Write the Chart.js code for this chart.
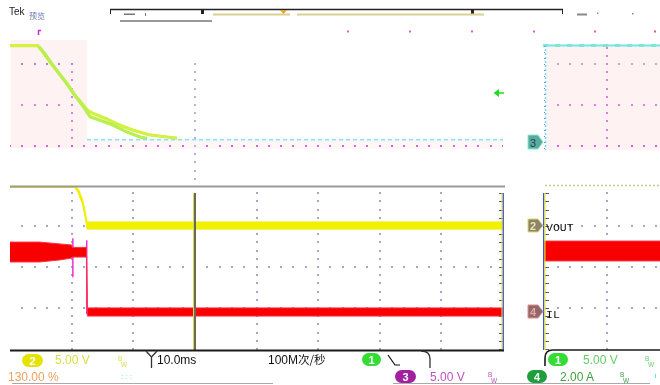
<!DOCTYPE html>
<html>
<head>
<meta charset="utf-8">
<script src="https://cdn.jsdelivr.net/npm/chart.js@4.4.1/dist/chart.umd.min.js"></script>
<style>
  html, body { margin: 0; padding: 0; background: #fff; }
  #scope { position: relative; width: 660px; height: 385px; overflow: hidden; background: #fff;
           font-family: "Liberation Sans", Arial, sans-serif; }
  .pane { position: absolute; }
  .pane canvas { display: block; }
  #overlay { position: absolute; left: 0; top: 0; pointer-events: none; }
</style>
</head>
<body>
<div id="scope">
  <div class="pane" style="left:10px;top:20px"><canvas id="overview" width="493" height="165"></canvas></div>
  <div class="pane" style="left:10px;top:186px"><canvas id="mainWin" width="493" height="164"></canvas></div>
  <div class="pane" style="left:543px;top:20px"><canvas id="sideTop" width="117" height="165"></canvas></div>
  <div class="pane" style="left:543px;top:186px"><canvas id="sideBottom" width="117" height="164"></canvas></div>

  <svg id="overlay" width="660" height="385" xmlns="http://www.w3.org/2000/svg">
    <!-- record bar -->
    <text x="9" y="15" font-size="10" fill="#222">Tek</text>
    <text x="29" y="19" font-size="8" fill="#6a7ab0" font-family="Noto Sans CJK SC">预览</text>
    <line x1="110" y1="9.5" x2="563" y2="9.5" stroke="#222" stroke-width="1.5"/>
    <path d="M110.5,9 V14 M562.5,9 V14" stroke="#222" stroke-width="1"/>
    <rect x="201" y="9" width="3" height="5" fill="#222"/>
    <rect x="471" y="9" width="3" height="5" fill="#222"/>
    <rect x="213" y="13.5" width="77" height="2" fill="#d9d28e"/>
    <rect x="297" y="13.5" width="187" height="2" fill="#d9d28e"/>
    <path d="M280,10 L287,10 L283.5,14 Z" fill="#e8a030"/>
    <line x1="120" y1="21" x2="212" y2="21" stroke="#333" stroke-width="1"/>
    <rect x="124" y="13.5" width="11" height="1.5" fill="#777"/>
    <rect x="145" y="13" width="1" height="3" fill="#777"/>
    <rect x="577" y="13.5" width="10" height="2" fill="#888"/>
    <rect x="597" y="12.5" width="1.5" height="1.5" fill="#888"/>
    <rect x="632" y="13" width="1.5" height="1.5" fill="#888"/>

    <!-- small marks along the top of the overview -->
    <path d="M38.5,35 V30.5 H41" stroke="#e020e0" stroke-width="1.5" fill="none"/>
    <g fill="#d060d0">
      <rect x="347" y="30.5" width="2" height="2"/><rect x="409" y="30.5" width="2" height="2"/>
      <rect x="471" y="30.5" width="2" height="2"/><rect x="533" y="30.5" width="2" height="2"/>
      <rect x="594" y="30.5" width="2" height="2"/><rect x="654" y="30.5" width="2" height="2" fill="#e06060"/>
    </g>

    <!-- trigger level arrow -->
    <path d="M493.5,93 L499,89 L499,97 Z" fill="#22dd22"/>
    <line x1="498" y1="93" x2="504" y2="93" stroke="#22dd22" stroke-width="1.5"/>

    <!-- side window left edge (overview) -->
    <line x1="545.5" y1="45" x2="545.5" y2="150" stroke="#60e0f0" stroke-width="1.5" stroke-dasharray="2,2"/>
    <line x1="544.5" y1="46" x2="544.5" y2="150" stroke="#b070d0" stroke-width="1" stroke-dasharray="1,5"/>

    <!-- main window frame -->
    <rect x="10" y="185.5" width="495" height="2" fill="#9a9a9a"/>
    <rect x="193" y="193" width="1" height="157" fill="#d8d860"/>
    <rect x="194" y="193" width="2" height="157" fill="#6b6b4f"/>
    <rect x="501.5" y="193" width="1.2" height="157" fill="#e0e030"/>
    <rect x="502.7" y="193" width="1.3" height="157" fill="#5060e0"/>
    <rect x="10" y="349.5" width="494" height="2" fill="#1a1a1a"/>

    <!-- side window frame -->
    <line x1="545" y1="185.5" x2="660" y2="185.5" stroke="#c8c890" stroke-width="1.5" stroke-dasharray="2,2"/>
    <rect x="543" y="193" width="1.3" height="157" fill="#4050e0"/>
    <rect x="544.3" y="193" width="1.2" height="157" fill="#e0e030"/>

    <!-- channel ground markers -->
    <path d="M528,219 H538 L543,225.5 L538,232 H528 Z" fill="#8c8468" stroke="#e0d870" stroke-width="1"/>
    <text x="530" y="230" font-size="11" font-weight="bold" fill="#e8e8b0">2</text>
    <path d="M528,305 H538 L543,311.5 L538,318 H528 Z" fill="#8c6a6a" stroke="#e88a8a" stroke-width="1"/>
    <text x="530" y="316" font-size="11" font-weight="bold" fill="#f0a0a0">4</text>
    <path d="M528,135 H538 L543,142 L538,149 H528 Z" fill="#5fa8a0" stroke="#80f0c0" stroke-width="1"/>
    <text x="530" y="146.5" font-size="11" fill="#1a4a4a">3</text>
    <text x="546" y="231" font-size="11.5" font-family="Liberation Mono, DejaVu Sans Mono, monospace" fill="#111">VOUT</text>
    <text x="546" y="318" font-size="11.5" font-family="Liberation Mono, DejaVu Sans Mono, monospace" fill="#111">IL</text>

    <!-- status area outline -->
    <path d="M146,351 L151.5,357 V368 M157,351 L151.5,357" stroke="#333" stroke-width="1.3" fill="none"/>
    <path d="M421,351 Q430,351 430,359 V368" stroke="#333" stroke-width="1.3" fill="none"/>
    <path d="M660,350 H553 Q545,350 545,358 V366" stroke="#1a1a1a" stroke-width="1.6" fill="none"/>
    <line x1="12" y1="383.5" x2="273" y2="383.5" stroke="#aaa" stroke-width="1"/>
    <line x1="393" y1="383.5" x2="650" y2="383.5" stroke="#aaa" stroke-width="1"/>

    <!-- channel 2 -->
    <rect x="22" y="354" width="21" height="13" rx="6.5" fill="#e4e400"/>
    <text x="32.5" y="364.5" font-size="11" font-weight="bold" fill="#fff" text-anchor="middle">2</text>
    <text x="55" y="364" font-size="12" fill="#dcdc40">5.00 V</text>
    <text x="118" y="361" font-size="6.5" fill="#dcdc40">B</text>
    <text x="121" y="367" font-size="6.5" fill="#dcdc40">W</text>

    <!-- timebase / trigger -->
    <text x="157" y="364" font-size="12" fill="#111">10.0ms</text>
    <text x="268" y="364" font-size="12" fill="#111">100M<tspan font-family="Noto Sans CJK SC" font-size="11.5">次/秒</tspan></text>
    <rect x="362" y="353" width="19" height="13" rx="6.5" fill="#33dd33"/>
    <text x="371.5" y="363.5" font-size="11" font-weight="bold" fill="#fff" text-anchor="middle">1</text>
    <path d="M388,355 L395,365 H400" stroke="#111" stroke-width="1.2" fill="none"/>

    <!-- side window channel 1 -->
    <rect x="548" y="353" width="20" height="13" rx="6.5" fill="#33dd33"/>
    <text x="558" y="363.5" font-size="11" font-weight="bold" fill="#fff" text-anchor="middle">1</text>
    <text x="583" y="364" font-size="12" fill="#66cc66">5.00 V</text>
    <text x="645" y="361" font-size="6.5" fill="#66cc66">B</text>
    <text x="648" y="367" font-size="6.5" fill="#66cc66">W</text>

    <!-- second status row -->
    <text x="8" y="381" font-size="12" fill="#f0a060">130.00 %</text>
    <text x="121" y="379" font-size="8" fill="#60e0f0">: : :</text>
    <rect x="395" y="370" width="21" height="13" rx="6.5" fill="#a020a0"/>
    <text x="405.5" y="380.5" font-size="11" font-weight="bold" fill="#fff" text-anchor="middle">3</text>
    <text x="430" y="381" font-size="12" fill="#c050c0">5.00 V</text>
    <text x="488" y="377" font-size="6.5" fill="#c050c0">B</text>
    <text x="491" y="383" font-size="6.5" fill="#c050c0">W</text>
    <rect x="527" y="370" width="20" height="13" rx="6.5" fill="#1e9e3c"/>
    <text x="537" y="380.5" font-size="11" font-weight="bold" fill="#fff" text-anchor="middle">4</text>
    <text x="560" y="381" font-size="12" fill="#40a040">2.00 A</text>
    <text x="620" y="377" font-size="6.5" fill="#40a040">B</text>
    <text x="623" y="383" font-size="6.5" fill="#40a040">W</text>
    <rect x="655" y="374" width="1" height="4" fill="#60e0f0"/>
  </svg>
</div>

<script>
// ---- Channel 1 (input, 5 V/div), overview record: time in ms, volts ----
const ch1TimeA = [-30, -25.5, -24.7, -23.5, -22.2, -20.8, -19.5, -18.2, -17.5, -16.6, -14.3, -12.2, -10.1, -7.3, -4.5, -2.9];
const ch1VoltA = [12.25, 12.25, 11.5, 10.25, 9.0, 7.7, 6.2, 5.1, 4.4, 4.0, 3.3, 2.55, 1.95, 1.35, 1.1, 0.95];
const ch1TimeB = [-25.3, -24.4, -23.2, -21.9, -20.5, -19.2, -17.9, -17.0, -15.4, -13.3, -11.0, -8.9, -7.8];
const ch1VoltB = [12.1, 11.3, 10.0, 8.7, 7.3, 5.9, 4.6, 3.55, 3.15, 2.55, 1.7, 1.1, 0.95];
const ch1TailTime = [-17.5, 50];
const ch1TailVolt = [0.75, 0.75];

// ---- Channel 2 VOUT (5 V/div): noise envelope ----
const voutTime = [-30, -19.5, -18.9, -18.2, -17.8, -17.5, 50];
const voutHigh = [4.95, 4.95, 4.5, 3.2, 1.8, 0.49, 0.49];
const voutLow  = [4.7, 4.7, 4.0, 2.6, 1.0, -0.37, -0.37];

// ---- Channel 4 IL (2 A/div): ripple envelope ----
const ilTime = [-30, -25.2, -21.9, -20.0, -19.9, -17.6, -17.45, 50];
const ilHigh = [3.41, 3.41, 3.32, 3.27, 3.15, 3.15, 0.2, 0.2];
const ilLow  = [2.44, 2.44, 2.54, 2.63, 2.68, 2.68, -0.2, -0.2];
const ilEdgeTime = [-19.8, -19.8, -19.7, -17.55, -17.55];
const ilEdgeAmp  = [3.6, 1.7, null, 3.5, -0.1];

// ---- Side window (time in divisions) ----
const sideTime = [-1.04, 0.86];
const sideCh1Volt = [12.25, 12.25];
const sideIlHigh = [3.46, 3.46];
const sideIlLow  = [2.49, 2.49];

const pts = (xs, ys) => xs.map((x, i) => ({ x, y: ys[i] }));

// Scope graticule: shaded boxes, dotted rows and columns in data units
const graticule = {
  id: 'graticule',
  beforeDatasetsDraw(chart, args, opts) {
    const ctx = chart.ctx, xs = chart.scales.x;
    ctx.save();
    (opts.boxes || []).forEach(b => {
      const ys = chart.scales[b.axis];
      const x0 = xs.getPixelForValue(b.x0), x1 = xs.getPixelForValue(b.x1);
      const y0 = ys.getPixelForValue(b.y0), y1 = ys.getPixelForValue(b.y1);
      ctx.fillStyle = b.color;
      ctx.fillRect(Math.min(x0, x1), Math.min(y0, y1), Math.abs(x1 - x0), Math.abs(y1 - y0));
    });
    (opts.rows || []).forEach(r => {
      const ys = chart.scales[r.axis];
      const py = Math.round(ys.getPixelForValue(r.y));
      ctx.fillStyle = r.color;
      for (let v = r.x0; v <= r.x1 + 1e-9; v += r.step) {
        const px = Math.round(xs.getPixelForValue(v));
        ctx.fillRect(px - 1, py - 1, 2, 2);
      }
    });
    (opts.cols || []).forEach(c => {
      const ys = chart.scales[c.axis];
      const px = Math.round(xs.getPixelForValue(c.x));
      ctx.fillStyle = c.color;
      for (let v = c.y0; v <= c.y1 + 1e-9; v += c.step) {
        const py = Math.round(ys.getPixelForValue(v));
        if (c.tick) ctx.fillRect(px - c.tick + (c.shift || 0), py, c.tick * 2, 1);
        else ctx.fillRect(px - 1, py - 1, 2, 2);
      }
    });
    ctx.restore();
  }
};
Chart.register(graticule);

const hidden = { display: false };
function baseOptions(xMin, xMax, scalesY, grid) {
  const scales = { x: { type: 'linear', min: xMin, max: xMax, display: false } };
  Object.keys(scalesY).forEach(k => scales[k] = { type: 'linear', min: scalesY[k][0], max: scalesY[k][1], display: false });
  return {
    responsive: false, animation: false, devicePixelRatio: 1,
    layout: { padding: 0 },
    elements: { point: { radius: 0 }, line: { tension: 0 } },
    plugins: { legend: hidden, tooltip: { enabled: false }, graticule: grid },
    scales
  };
}

// Vertical ranges: overview 0 V at y=146 px, 41 px/div; main window VOUT 0 V at 226 px, IL 0 A at 312 px
const ovY = [-4.756, 15.366];
const vY = [-15.12, 4.88];
const iY = [-1.854, 6.146];

const gridDot = '#a6a6cc';
const pink = '#fef2f3';

new Chart(document.getElementById('overview'), {
  type: 'line',
  data: { datasets: [
    { data: pts(ch1TailTime, ch1TailVolt), yAxisID: 'y', borderColor: '#7ee8f4', borderWidth: 1.5, borderDash: [4, 3] },
    { data: pts(ch1TimeB, ch1VoltB), yAxisID: 'y', borderColor: '#b8f050', borderWidth: 3.2 },
    { data: pts(ch1TimeA, ch1VoltA), yAxisID: 'y', borderColor: '#d4f040', borderWidth: 3.2 },
    { data: pts(ch1TimeB, ch1VoltB), yAxisID: 'y', borderColor: '#14d828', borderWidth: 2 },
    { data: pts(ch1TimeA, ch1VoltA), yAxisID: 'y', borderColor: '#18e018', borderWidth: 2 }
  ]},
  options: baseOptions(-30, 50, { y: ovY }, {
    boxes: [
      { axis: 'y', x0: -29.87, x1: -17.53, y0: -0.24, y1: 12.93, color: pink },
      { axis: 'y', x0: -17.53, x1: 50, y0: -0.37, y1: 0.98, color: '#fef6f7' }
    ],
    rows: [
      { axis: 'y', y: 0, x0: -30, x1: 50, step: 2, color: '#e060e0' },
      { axis: 'y', y: 5, x0: -28, x1: -20, step: 2, color: '#e080e0' },
      { axis: 'y', y: 10, x0: -28, x1: -20, step: 2, color: '#b080d8' }
    ],
    cols: [
      { axis: 'y', x: 0, y0: -4, y1: 10, step: 1, color: '#b4b4dc' },
      { axis: 'y', x: -20, y0: 1, y1: 9, step: 1, color: '#e080e0' }
    ]
  })
});

new Chart(document.getElementById('mainWin'), {
  type: 'line',
  data: { datasets: [
    { data: pts(voutTime, voutHigh), yAxisID: 'yV', borderColor: '#eeee00', borderWidth: 1, fill: false },
    { data: pts(voutTime, voutLow), yAxisID: 'yV', borderColor: '#eeee00', borderWidth: 1, backgroundColor: '#f2f200', fill: '-1' },
    { data: pts(ilTime, ilHigh), yAxisID: 'yI', borderColor: '#ff3048', borderWidth: 1, fill: false },
    { data: pts(ilTime, ilLow), yAxisID: 'yI', borderColor: '#ff3048', borderWidth: 1, backgroundColor: '#f80000', fill: '-1' },
    { data: pts(ilEdgeTime, ilEdgeAmp), yAxisID: 'yI', borderColor: '#ee30d8', borderWidth: 1.5, spanGaps: false }
  ]},
  options: baseOptions(-30, 50, { yV: vY, yI: iY }, {
    rows: [0, -5, -10].map(v => ({ axis: 'yV', y: v, x0: -28, x1: 48, step: 2, color: gridDot })),
    cols: [
      ...[-20, -10, 10, 20, 30, 40].map(t => ({ axis: 'yV', x: t, y0: -15, y1: 4, step: 1, color: gridDot })),
      { axis: 'yV', x: 0, y0: -15, y1: 4, step: 1, color: '#555', tick: 3 },
      { axis: 'yV', x: 50, y0: -15, y1: 4, step: 1, color: '#555', tick: 2, shift: -2 }
    ]
  })
});

new Chart(document.getElementById('sideTop'), {
  type: 'line',
  data: { datasets: [
    { data: pts(sideTime, sideCh1Volt), yAxisID: 'y', borderColor: '#70e8f0', borderWidth: 2 },
    { data: pts(sideTime, sideCh1Volt), yAxisID: 'y', borderColor: '#30dd30', borderWidth: 2, borderDash: [5, 7] }
  ]},
  options: baseOptions(-1.039, 0.86, { y: ovY }, {
    boxes: [ { axis: 'y', x0: -1.006, x1: 0.86, y0: -0.49, y1: 12.44, color: pink } ],
    rows: [
      { axis: 'y', y: 0, x0: -0.8, x1: 0.8, step: 0.2, color: '#e060e0' },
      { axis: 'y', y: 5, x0: -0.8, x1: 0.8, step: 0.2, color: '#e080e0' },
      { axis: 'y', y: 10, x0: -0.8, x1: 0.8, step: 0.2, color: '#b0b0d8' }
    ],
    cols: [ { axis: 'y', x: 0, y0: 1, y1: 12, step: 1, color: '#e080e0' } ]
  })
});

new Chart(document.getElementById('sideBottom'), {
  type: 'line',
  data: { datasets: [
    { data: pts(sideTime, sideIlHigh), yAxisID: 'yI', borderColor: '#ff3048', borderWidth: 1, fill: false },
    { data: pts(sideTime, sideIlLow), yAxisID: 'yI', borderColor: '#ff3048', borderWidth: 1, backgroundColor: '#f80000', fill: '-1' }
  ]},
  options: baseOptions(-1.039, 0.86, { yV: vY, yI: iY }, {
    rows: [0, -5, -10].map(v => ({ axis: 'yV', y: v, x0: -0.8, x1: 0.8, step: 0.2, color: gridDot })),
    cols: [
      { axis: 'yV', x: 0, y0: -15, y1: 4, step: 1, color: gridDot },
      { axis: 'yV', x: -1, y0: -15, y1: 4, step: 1, color: '#555', tick: 2, shift: 2 }
    ]
  })
});
</script>
</body>
</html>
